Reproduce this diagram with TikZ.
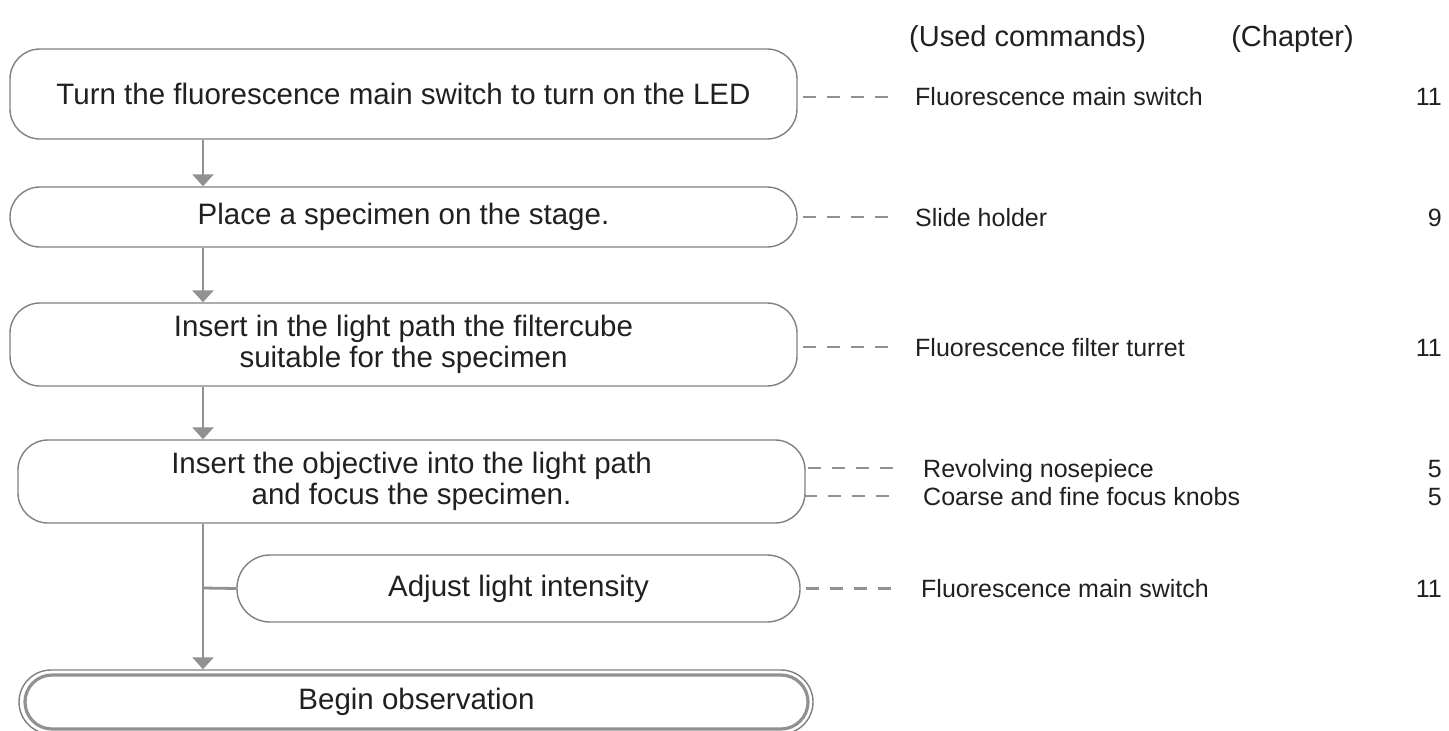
\documentclass[tikz,border=0pt]{standalone}
\usepackage{fontspec}
\setmainfont{Liberation Sans}
\usetikzlibrary{arrows.meta,calc}
\definecolor{linegray}{RGB}{145,145,148}
\definecolor{boxgray}{RGB}{128,128,128}
\definecolor{ink}{RGB}{35,31,32}

\begin{document}
\begin{tikzpicture}[x=1pt,y=-1pt,
  stepbox/.style={draw=boxgray, line width=1.4pt, rounded corners=30pt,
    inner sep=0pt, align=center, text=ink,
    font=\fontsize{29.5}{31}\selectfont, minimum width=787pt},
  cmd/.style={anchor=base west, inner sep=0pt, text=ink,
    font=\fontsize{25}{28}\selectfont},
  chap/.style={anchor=base east, inner sep=0pt, text=ink,
    font=\fontsize{25}{28}\selectfont},
  head/.style={anchor=base west, inner sep=0pt, text=ink,
    font=\fontsize{29}{32}\selectfont},
  flow/.style={draw=linegray, line width=2.8pt,
    -{Triangle[width=21pt,length=12pt]}},
  branch/.style={draw=linegray, line width=2.8pt},
  dashline/.style={draw=linegray, line width=2.6pt, dash pattern=on 13pt off 11pt}
]
\useasboundingbox (0,0) rectangle (1449,731);

% column headings
\node[head] (hcmd) at (909,46) {(Used commands)};
\node[head, anchor=base east] (hchap) at (1354,46) {(Chapter)};

% procedure steps
\node[stepbox, minimum height=90pt] (b1) at (403.5,94)
  {Turn the fluorescence main switch to turn on the LED};
\node[stepbox, minimum height=60pt] (b2) at (403.5,217)
  {Place a specimen on the stage.};
\node[stepbox, minimum height=83pt] (b3) at (403.5,344.5)
  {Insert in the light path the filtercube\\ suitable for the specimen};
\node[stepbox, minimum height=83pt] (b4) at (411.5,481.5)
  {Insert the objective into the light path\\ and focus the specimen.};
\node[stepbox, minimum height=67pt, minimum width=563pt,
  rounded corners=33pt] (b5) at (518.5,588.5) {Adjust light intensity};

% final step with a double outline
\node[draw=boxgray, line width=1.4pt, rounded corners=32pt,
  minimum width=794pt, minimum height=64pt, inner sep=0pt] (b6o) at (416,702) {};
\node[stepbox, draw=linegray, line width=3.2pt, rounded corners=27pt,
  minimum width=783pt, minimum height=54pt] (b6) at (416.5,702) {Begin observation};

% flow arrows
\coordinate (j) at (203,588);
\draw[flow] (b1.south -| j) -- (b2.north -| j);
\draw[flow] (b2.south -| j) -- (b3.north -| j);
\draw[flow] (b3.south -| j) -- (b4.north -| j);
\draw[flow] (b4.south -| j) -- (b6o.north -| j);
\draw[branch] (j) -- (b5.west);

% commands used and their chapters
\node[cmd] (c1) at (915,105) {Fluorescence main switch};
\node[chap] (n1) at (1442,105) {11};
\node[cmd] (c2) at (915,226) {Slide holder};
\node[chap] (n2) at (1442,226) {9};
\node[cmd] (c3) at (915,356) {Fluorescence filter turret};
\node[chap] (n3) at (1442,356) {11};
\node[cmd] (c4a) at (923,477) {Revolving nosepiece};
\node[chap] (n4a) at (1442,477) {5};
\node[cmd] (c4b) at (923,505) {Coarse and fine focus knobs};
\node[chap] (n4b) at (1442,505) {5};
\node[cmd] (c5) at (921,597) {Fluorescence main switch};
\node[chap] (n5) at (1442,597) {11};

% dashed leaders
\draw[dashline] ($(b1.east)+(5,3)$) -- ++(87,0);
\draw[dashline] ([xshift=5pt]b2.east) -- ++(87,0);
\draw[dashline] ($(b3.east)+(5,2.5)$) -- ++(87,0);
\draw[dashline] ($(b4.east)+(2,-13.5)$) -- ++(85,0);
\draw[dashline] ($(b4.east)+(-2,14.5)$) -- ++(87,0);
\draw[dashline] ([xshift=5pt]b5.east) -- ++(87,0);
\end{tikzpicture}
\end{document}
